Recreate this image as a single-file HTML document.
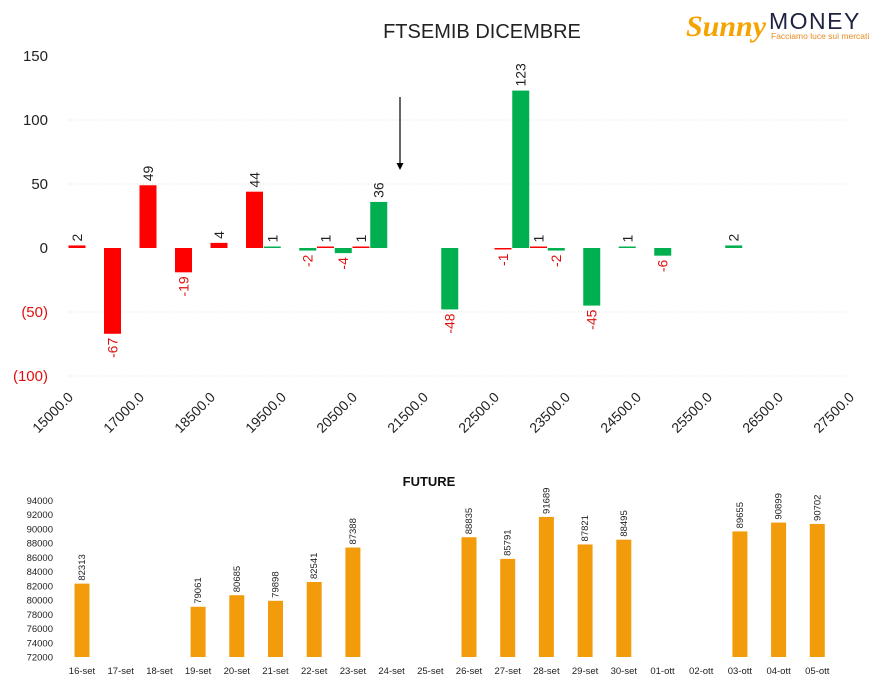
<!DOCTYPE html>
<html><head><meta charset="utf-8"><style>
html,body{margin:0;padding:0;background:#fff;}
svg{display:block;font-family:"Liberation Sans","DejaVu Sans",sans-serif;}
</style></head><body>
<svg id="c" width="888" height="687" viewBox="0 0 888 687">
<g>
<text x="686" y="36" font-family="Liberation Serif,serif" font-style="italic" font-weight="bold" font-size="30" fill="#f5a300">Sunny</text>
<text x="769" y="29" font-size="23" fill="#1f2240" letter-spacing="1.5">MONEY</text>
<text x="771" y="39" font-size="8.5" fill="#e8891e">Facciamo luce sui mercati</text>
</g>
<text x="482" y="38" text-anchor="middle" font-size="20" fill="#222">FTSEMIB DICEMBRE</text>
<g id="topg"></g>
<line x1="400" y1="97" x2="400" y2="165" stroke="#000" stroke-width="1.2"/>
<polygon points="396.5,163 403.5,163 400,170" fill="#000"/>
<text x="429" y="486" text-anchor="middle" font-size="13" font-weight="bold" fill="#111">FUTURE</text>
<g id="botg"></g>
</svg>
<script>
const strikeLabels=["15000.0","17000.0","18500.0","19500.0","20500.0","21500.0","22500.0","23500.0","24500.0","25500.0","26500.0","27500.0"];
const barSlots=[0,2,4,6,8,10,11,13,14,15,16,17,21,24,25,26,27,29,31,33,37];
const barValues=[2,-67,49,-19,4,44,1,-2,1,-4,1,36,-48,-1,123,1,-2,-45,1,-6,2];
const barColors=["r","r","r","r","r","r","g","g","r","g","r","g","g","r","g","r","g","g","g","g","g"];
const yTicks=[150,100,50,0,-50,-100];
const futDates=["16-set","17-set","18-set","19-set","20-set","21-set","22-set","23-set","24-set","25-set","26-set","27-set","28-set","29-set","30-set","01-ott","02-ott","03-ott","04-ott","05-ott"];
const futValues=[82313,null,null,79061,80685,79898,82541,87388,null,null,88835,85791,91689,87821,88495,null,null,89655,90899,90702];
const futTicks=[72000,74000,76000,78000,80000,82000,84000,86000,88000,90000,92000,94000];
const NS="http://www.w3.org/2000/svg";
function mk(p,t,a){const e=document.createElementNS(NS,t);for(const k in a)e.setAttribute(k,a[k]);p.appendChild(e);return e;}
const topG=document.getElementById('topg');
const ty=v=>248-v*1.28;
const tx=s=>77+s*17.75;
yTicks.forEach(v=>{
 if(v!==0&&v!==150){const l=mk(topG,'line',{x1:68,x2:847,y1:ty(v),y2:ty(v),stroke:'#ddd','stroke-dasharray':'1,2'});
 
 }
 const t=mk(topG,'text',{x:48,y:ty(v)+5,'text-anchor':'end','font-size':15,fill:v<0?'#e01010':'#222'});
 t.textContent=v<0?'('+(-v)+')':String(v);
 
 
});
strikeLabels.forEach((s,i)=>{
 const x=tx(i*4)-3,y=398;
 const t=mk(topG,'text',{x:x,y:y,'text-anchor':'end','font-size':14,fill:'#222',transform:`rotate(-45 ${x} ${y})`});
 t.textContent=s;
 
 
});
barSlots.forEach((s,i)=>{
 const v=barValues[i],x=tx(s);
 const y0=ty(0),y1=ty(v);
 const h=Math.max(Math.abs(y1-y0),1.5);
 const r=mk(topG,'rect',{x:x-8.5,y:v>=0?y0-h:y0,width:17,height:h,fill:barColors[i]==='r'?'#ff0000':'#00b050'});
 
 
 let lx=x+5,ly;
 const t=mk(topG,'text',{'font-size':14});
 if(v>=0){ly=Math.min(y1,y0-1.5)-4;t.setAttribute('fill','#222');t.setAttribute('text-anchor','start');}
 else{ly=Math.max(y1,y0+1.5)+4;t.setAttribute('fill','#e01010');t.setAttribute('text-anchor','end');}
 t.setAttribute('x',lx);t.setAttribute('y',ly);
 t.setAttribute('transform',`rotate(-90 ${lx} ${ly})`);
 t.textContent=String(v);
 
 
});
const botG=document.getElementById('botg');
const by=v=>657-(v-72000)*156.5/22000;
const bx=i=>82+i*38.7;
futTicks.forEach(v=>{
 const t=mk(botG,'text',{x:53,y:by(v)+3.5,'text-anchor':'end','font-size':9.5,fill:'#222'});
 t.textContent=String(v);
 
 
});
futDates.forEach((d,i)=>{
 const t=mk(botG,'text',{x:bx(i),y:674,'text-anchor':'middle','font-size':9.5,fill:'#222'});
 t.textContent=d;
 
 
 const v=futValues[i];
 if(v==null)return;
 const r=mk(botG,'rect',{x:bx(i)-7.5,y:by(v),width:15,height:657-by(v),fill:'#f39c0b'});
 
 
 const lx=bx(i)+3,ly=by(v)-3;
 const l=mk(botG,'text',{x:lx,y:ly,'font-size':9.5,fill:'#222',transform:`rotate(-90 ${lx} ${ly})`});
 l.textContent=String(v);
 
 
});
</script>
</body></html>
